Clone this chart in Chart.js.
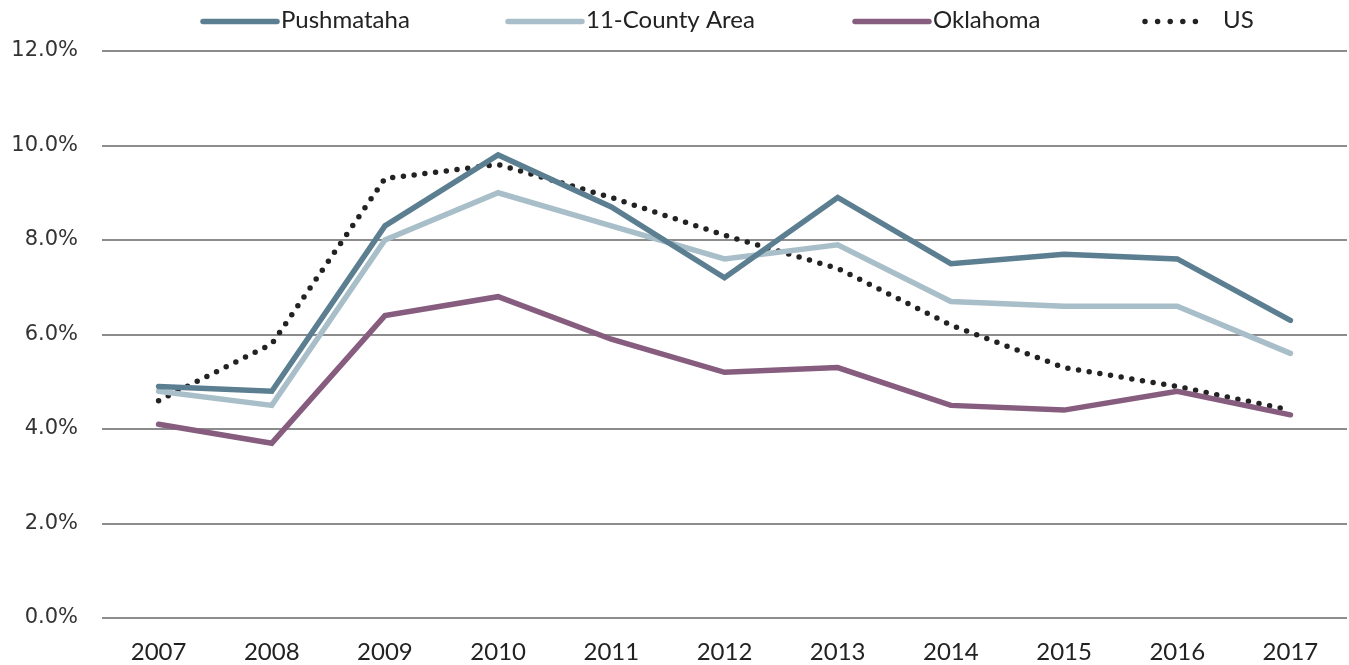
<!DOCTYPE html>
<html>
<head>
<meta charset="utf-8">
<script src="https://cdn.jsdelivr.net/npm/chart.js@4/dist/chart.umd.min.js"></script>
<style>
  html, body { margin: 0; padding: 0; background: #fff; }
  #wrap { width: 1349px; height: 665px; }
</style>
</head>
<body>
<div id="wrap"><canvas id="chart" width="1349" height="665"></canvas></div>
<script>
const years = ['2007', '2008', '2009', '2010', '2011', '2012', '2013', '2014', '2015', '2016', '2017'];
const pushmataha = [4.9, 4.8, 8.3, 9.8, 8.7, 7.2, 8.9, 7.5, 7.7, 7.6, 6.3];
const countyArea = [4.8, 4.5, 8.0, 9.0, 8.3, 7.6, 7.9, 6.7, 6.6, 6.6, 5.6];
const oklahoma = [4.1, 3.7, 6.4, 6.8, 5.9, 5.2, 5.3, 4.5, 4.4, 4.8, 4.3];
const us = [4.6, 5.8, 9.3, 9.6, 8.9, 8.1, 7.4, 6.2, 5.3, 4.9, 4.4];

const labelFont = 'Lato, "Noto Sans", sans-serif';

function line(label, data, color, dash) {
  return {
    label: label,
    data: data,
    borderColor: color,
    backgroundColor: color,
    borderWidth: 5.5,
    borderDash: dash || [],
    borderCapStyle: 'round',
    borderJoinStyle: 'miter',
    pointRadius: 0,
    tension: 0,
    fill: false
  };
}

// legend across the top, drawn by hand so the US key comes out dotted
const legendStarts = [203, 508, 855, 1145];
const topLegend = {
  id: 'topLegend',
  afterDraw(chart) {
    const c = chart.ctx;
    const lineY = 21.5, baseY = 28;
    c.save();
    c.font = '24px ' + labelFont;
    c.fillStyle = '#222';
    c.textBaseline = 'alphabetic';
    chart.data.datasets.forEach((ds, i) => {
      const x = legendStarts[i];
      const dotted = ds.borderDash.length > 0;
      const len = dotted ? 63 : 74;
      c.beginPath();
      c.strokeStyle = ds.borderColor;
      c.lineCap = 'round';
      c.lineWidth = 5.5;
      c.setLineDash(dotted ? [0, 12.6] : []);
      c.moveTo(x, lineY);
      c.lineTo(x + len, lineY);
      c.stroke();
      c.setLineDash([]);
      c.fillText(ds.label, x + len + (dotted ? 15 : 4), baseY);
    });
    c.restore();
  }
};

const ctx = document.getElementById('chart').getContext('2d');
new Chart(ctx, {
  type: 'line',
  data: {
    labels: years,
    datasets: [
      line('Pushmataha', pushmataha, '#5b7e91'),
      line('11-County Area', countyArea, '#a8bec8'),
      line('Oklahoma', oklahoma, '#865d7e'),
      line('US', us, '#222222', [0, 10.8])
    ]
  },
  plugins: [topLegend],
  options: {
    responsive: false,
    animation: false,
    layout: { padding: { left: 12, right: 2, top: 51, bottom: 0 } },
    plugins: {
      tooltip: { enabled: false },
      legend: { display: false }
    },
    scales: {
      x: {
        offset: true,
        grid: { display: false, drawTicks: false },
        border: { display: false },
        afterFit: s => { s.height = 47; },
        ticks: {
          color: '#222',
          padding: 20,
          maxRotation: 0,
          font: { family: labelFont, size: 24 }
        }
      },
      y: {
        min: 0,
        max: 12,
        grid: { color: '#8c8c8c', lineWidth: 2, drawTicks: false },
        border: { display: false },
        afterFit: s => { s.width = 90; },
        ticks: {
          stepSize: 2,
          padding: 24,
          color: '#333',
          font: { family: '"DejaVu Sans", sans-serif', size: 21 },
          callback: v => v.toFixed(1) + '%'
        }
      }
    }
  }
});
</script>
</body>
</html>
